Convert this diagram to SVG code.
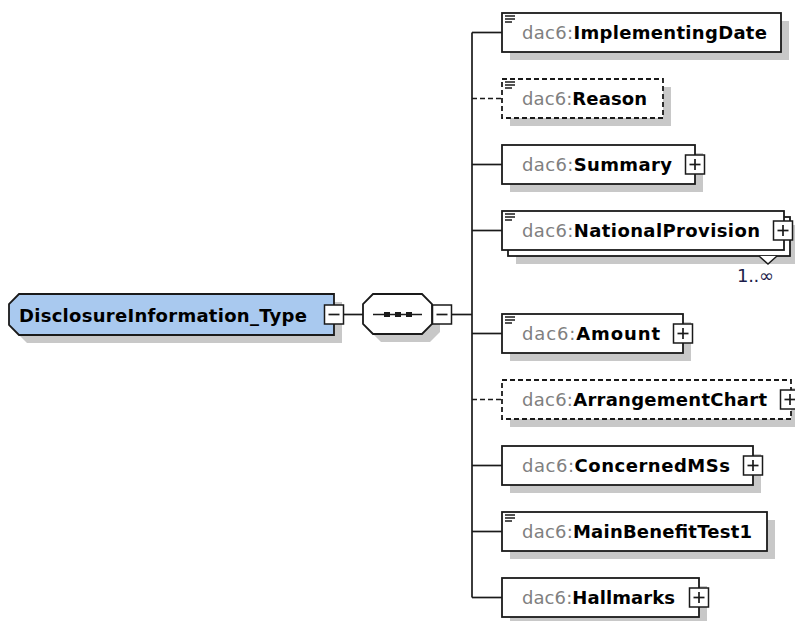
<svg xmlns="http://www.w3.org/2000/svg" width="795" height="621" viewBox="0 0 795 621">
<defs>
<style>
text{font-family:"DejaVu Sans","Liberation Sans",sans-serif;font-size:18px}
.box{fill:#fff;stroke:#1a1a1a;stroke-width:1.8}
.dash{stroke-dasharray:5 3}
.sh{fill:#c8c8c8}
.ln{stroke:#1a1a1a;stroke-width:1.7;fill:none}
.ns{fill:#808080}
.nm{fill:#000;font-weight:bold}
.doc{stroke:#1a1a1a;stroke-width:1.5}
.tog{fill:#fff;stroke:#1a1a1a;stroke-width:1.5}
</style>
<g id="doc"><line class="doc" x1="0" y1="0" x2="10" y2="0"/><line class="doc" x1="0" y1="3" x2="10" y2="3"/><line class="doc" x1="0" y1="6" x2="7" y2="6"/></g>
<g id="plus"><rect class="tog" x="-9.5" y="-9.5" width="19" height="19"/><line class="ln" x1="-5.5" y1="0" x2="5.5" y2="0"/><line class="ln" x1="0" y1="-5.5" x2="0" y2="5.5"/></g>
<g id="minus"><rect class="tog" x="-9.5" y="-9.5" width="19" height="19"/><line class="ln" x1="-5.5" y1="0" x2="5.5" y2="0"/></g>
</defs>
<rect width="795" height="621" fill="#fff"/>

<g id="connectors">
<line class="ln" x1="343" y1="314.5" x2="363" y2="314.5"/>
<line class="ln" x1="442" y1="314.5" x2="472" y2="314.5"/>
<line class="ln" x1="472" y1="32.5" x2="472" y2="597.5"/>
<line class="ln" x1="472" y1="32.5" x2="502" y2="32.5"/>
<line class="ln dash" x1="472" y1="98.5" x2="502" y2="98.5"/>
<line class="ln" x1="472" y1="164.5" x2="502" y2="164.5"/>
<line class="ln" x1="472" y1="230.5" x2="502" y2="230.5"/>
<line class="ln" x1="472" y1="333.5" x2="502" y2="333.5"/>
<line class="ln dash" x1="472" y1="399.5" x2="502" y2="399.5"/>
<line class="ln" x1="472" y1="465.5" x2="502" y2="465.5"/>
<line class="ln" x1="472" y1="531.5" x2="502" y2="531.5"/>
<line class="ln" x1="472" y1="597.5" x2="502" y2="597.5"/>
</g>

<g id="root">
<polygon class="sh" points="27,302 342,302 342,343 27,343 17,333 17,312"/>
<polygon points="19,294 334,294 334,335 19,335 9,325 9,304" fill="#a9c9ef" stroke="#1a1a1a" stroke-width="1.8"/>
<text x="19" y="322" class="nm" fill="#111" font-size="18.5" textLength="288">DisclosureInformation_Type</text>
<use href="#minus" x="334" y="314.5"/>
</g>

<g id="sequence">
<polygon class="sh" points="381,302 430,302 440,312 440,332 430,342 381,342 371,332 371,312"/>
<polygon class="box" points="373,294 422,294 432,304 432,324 422,334 373,334 363,324 363,304"/>
<line class="ln" x1="373" y1="314.5" x2="422" y2="314.5"/>
<rect x="384" y="312" width="6" height="5" fill="#1a1a1a"/>
<rect x="395" y="312" width="6" height="5" fill="#1a1a1a"/>
<rect x="406" y="312" width="6" height="5" fill="#1a1a1a"/>
<use href="#minus" x="442" y="314.5"/>
</g>

<g id="n-implementingdate">
<rect class="sh" x="510" y="21" width="279" height="39"/>
<rect class="box" x="502" y="13" width="279" height="39"/>
<use href="#doc" x="505" y="16"/>
<text x="522" y="39" textLength="245"><tspan class="ns">dac6:</tspan><tspan class="nm">ImplementingDate</tspan></text>
</g>

<g id="n-reason">
<rect class="sh" x="510" y="87" width="161" height="39"/>
<rect class="box dash" x="502" y="79" width="161" height="39"/>
<use href="#doc" x="505" y="82"/>
<text x="522" y="105" textLength="125"><tspan class="ns">dac6:</tspan><tspan class="nm">Reason</tspan></text>
</g>

<g id="n-summary">
<rect class="sh" x="510" y="153" width="193" height="39"/>
<rect class="box" x="502" y="145" width="193" height="39"/>
<text x="522" y="171" textLength="150"><tspan class="ns">dac6:</tspan><tspan class="nm">Summary</tspan></text>
<use href="#plus" x="695" y="164.5"/>
</g>

<g id="n-nationalprovision">
<rect class="sh" x="516" y="225" width="282" height="39"/>
<rect class="box" x="508" y="217" width="282" height="39"/>
<rect class="box" x="502" y="211" width="282" height="39"/>
<use href="#doc" x="505" y="214"/>
<text x="522" y="237" textLength="238"><tspan class="ns">dac6:</tspan><tspan class="nm">NationalProvision</tspan></text>
<use href="#plus" x="783" y="230.5"/>
<polyline points="759,256 768,264 777,256" fill="#fff" stroke="#1a1a1a" stroke-width="1.5"/>
<text x="737" y="282" fill="#1c1c4a" font-size="17" textLength="37">1..∞</text>
</g>

<g id="n-amount">
<rect class="sh" x="510" y="322" width="181" height="39"/>
<rect class="box" x="502" y="314" width="181" height="39"/>
<use href="#doc" x="505" y="317"/>
<text x="522" y="340" textLength="138"><tspan class="ns">dac6:</tspan><tspan class="nm">Amount</tspan></text>
<use href="#plus" x="683" y="333.5"/>
</g>

<g id="n-arrangementchart">
<rect class="sh" x="510" y="388" width="289" height="39"/>
<rect class="box dash" x="502" y="380" width="289" height="39"/>
<text x="522" y="406" textLength="245"><tspan class="ns">dac6:</tspan><tspan class="nm">ArrangementChart</tspan></text>
<use href="#plus" x="790" y="399.5"/>
</g>

<g id="n-concernedmss">
<rect class="sh" x="510" y="454" width="251" height="39"/>
<rect class="box" x="502" y="446" width="251" height="39"/>
<text x="522" y="472" textLength="208"><tspan class="ns">dac6:</tspan><tspan class="nm">ConcernedMSs</tspan></text>
<use href="#plus" x="753" y="465.5"/>
</g>

<g id="n-mainbenefittest1">
<rect class="sh" x="510" y="520" width="265" height="39"/>
<rect class="box" x="502" y="512" width="265" height="39"/>
<use href="#doc" x="505" y="515"/>
<text x="522" y="538" textLength="230"><tspan class="ns">dac6:</tspan><tspan class="nm">MainBenefitTest1</tspan></text>
</g>

<g id="n-hallmarks">
<rect class="sh" x="510" y="586" width="197" height="39"/>
<rect class="box" x="502" y="578" width="197" height="39"/>
<text x="522" y="604" textLength="153"><tspan class="ns">dac6:</tspan><tspan class="nm">Hallmarks</tspan></text>
<use href="#plus" x="699" y="597.5"/>
</g>
</svg>
